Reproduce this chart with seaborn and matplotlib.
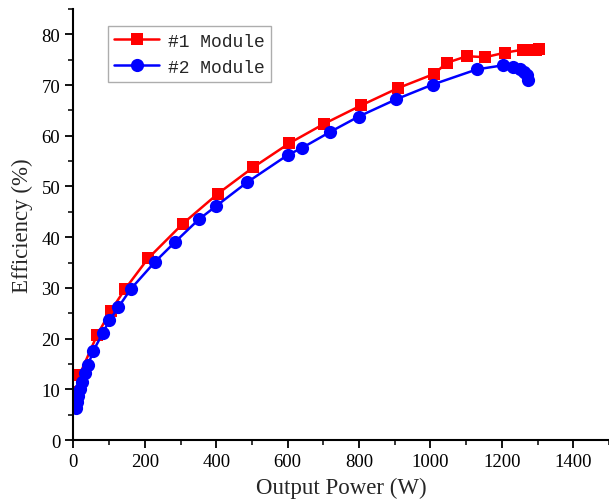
import matplotlib
matplotlib.use("Agg")
import matplotlib.pyplot as plt
import seaborn as sns
import pandas as pd
from matplotlib.ticker import MultipleLocator

# Data
power_1 = [5, 10, 17, 67, 104, 144, 209, 307, 405, 504, 604, 703, 806, 909, 1010,
           1046, 1102, 1153, 1209, 1260, 1280, 1295, 1305]
eff_1 = [7.0, 9.5, 12.8, 20.8, 25.4, 29.7, 35.8, 42.7, 48.6, 53.8, 58.5, 62.4, 66.0,
         69.4, 72.2, 74.4, 75.7, 75.5, 76.4, 77.0, 76.9, 77.0, 77.1]
power_2 = [7, 10, 13, 18, 24, 32, 41, 56, 83, 101, 126, 161, 228, 284, 351, 399,
           486, 600, 640, 720, 799, 904, 1006, 1130, 1203, 1231, 1250, 1261, 1270, 1274]
eff_2 = [6.3, 7.5, 8.7, 10.0, 11.4, 13.2, 14.8, 17.6, 21.2, 23.6, 26.2, 29.8, 35.1,
         39.0, 43.5, 46.1, 50.8, 56.2, 57.6, 60.8, 63.8, 67.2, 70.1, 73.1, 73.9,
         73.5, 73.1, 72.5, 71.9, 71.1]
series_names = ["#1 Module", "#2 Module"]
x_ticks = [0, 200, 400, 600, 800, 1000, 1200, 1400]
y_ticks = [0, 10, 20, 30, 40, 50, 60, 70, 80]

df = pd.concat([
    pd.DataFrame({"power": power_1, "eff": eff_1, "module": series_names[0]}),
    pd.DataFrame({"power": power_2, "eff": eff_2, "module": series_names[1]}),
], ignore_index=True)

sns.set_style("ticks")
plt.rcParams["font.family"] = ["Liberation Serif", "DejaVu Serif"]

fig = plt.figure(figsize=(6.09, 5.02), dpi=100)
ax = fig.add_axes([0.1205, 0.1215, 0.8795, 0.8585])

palette = {series_names[0]: "#ff0000", series_names[1]: "#0000ff"}
markers = {series_names[0]: "s", series_names[1]: "o"}
sns.lineplot(data=df, x="power", y="eff", hue="module", style="module",
             palette=palette, markers=markers, dashes=False, estimator=None,
             sort=False, linewidth=1.8, ax=ax, markeredgewidth=0)
for line in ax.lines:
    if line.get_marker() == "s":
        line.set_markersize(8.5)
    elif line.get_marker() == "o":
        line.set_markersize(9.5)

ax.set_xlim(0, 1500)
ax.set_ylim(0, 85)
ax.set_xticks(x_ticks)
ax.set_yticks(y_ticks)
ax.xaxis.set_minor_locator(MultipleLocator(100))
ax.yaxis.set_minor_locator(MultipleLocator(5))
ax.tick_params(axis="both", which="major", direction="out", length=6, width=1.3,
               labelsize=13.5, colors="black")
ax.tick_params(axis="both", which="minor", direction="out", length=3.5, width=1.3)
for s in ["top", "right"]:
    ax.spines[s].set_visible(False)
for s in ["left", "bottom"]:
    ax.spines[s].set_linewidth(1.5)
    ax.spines[s].set_color("black")

ax.set_xlabel("Output Power (W)", fontsize=16.5, labelpad=5)
ax.set_ylabel("Efficiency (%)", fontsize=16.5, labelpad=6)

handles, labels = ax.get_legend_handles_labels()
leg = ax.legend(handles, labels, loc="upper left", bbox_to_anchor=(0.064, 0.96),
                prop={"family": "Liberation Mono", "size": 13},
                frameon=True, fancybox=False, edgecolor="#999999",
                handlelength=2.5, handletextpad=0.5, borderpad=0.35,
                labelspacing=0.5, borderaxespad=0)
leg.get_frame().set_linewidth(1.0)

fig.savefig("out.png", dpi=100)
